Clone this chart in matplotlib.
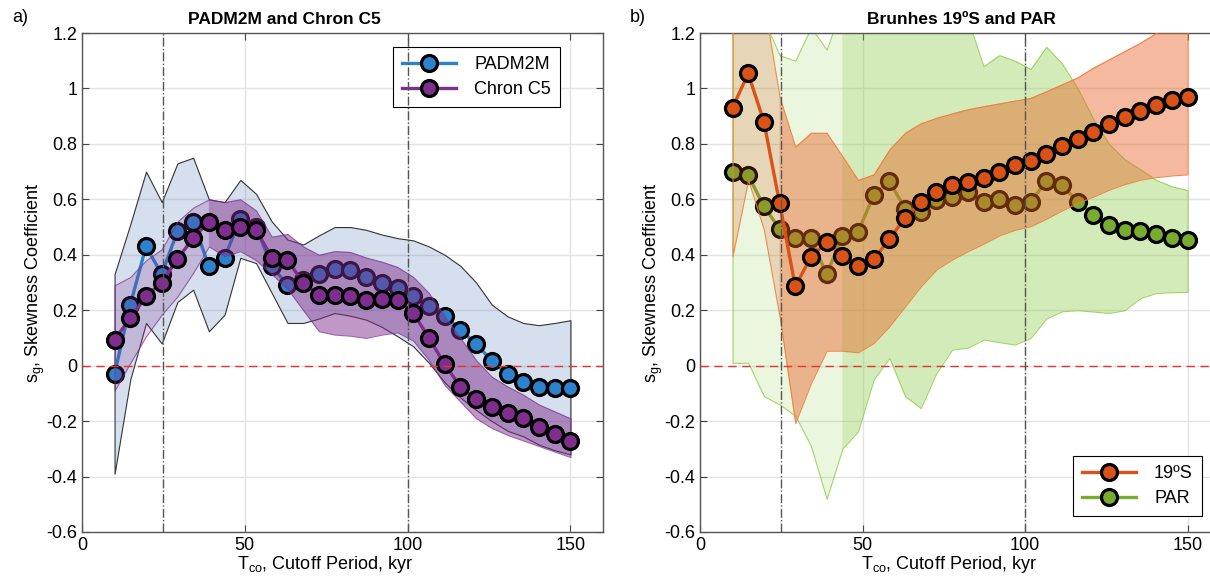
import matplotlib.pyplot as plt
from matplotlib.colors import to_rgba

plt.rcParams['font.family'] = ['Liberation Sans', 'DejaVu Sans']

# cutoff period, kyr
T_co = [10.0, 14.83, 19.66, 24.48, 29.31, 34.14, 38.97, 43.79, 48.62, 53.45,
        58.28, 63.10, 67.93, 72.76, 77.59, 82.41, 87.24, 92.07, 96.90, 101.72,
        106.55, 111.38, 116.21, 121.03, 125.86, 130.69, 135.52, 140.34, 145.17, 150.0]

# panel a
padm2m = [-0.03, 0.22, 0.43, 0.33, 0.485, 0.517, 0.36, 0.39, 0.53, 0.50,
          0.36, 0.29, 0.31, 0.33, 0.35, 0.345, 0.32, 0.30, 0.28, 0.25,
          0.217, 0.178, 0.13, 0.078, 0.018, -0.031, -0.059, -0.078, -0.08, -0.08]
padm2m_hi = [0.33, 0.51, 0.70, 0.59, 0.73, 0.75, 0.60, 0.59, 0.67, 0.62,
             0.52, 0.455, 0.437, 0.47, 0.50, 0.50, 0.49, 0.473, 0.46, 0.452,
             0.43, 0.40, 0.36, 0.30, 0.22, 0.178, 0.154, 0.146, 0.154, 0.164]
padm2m_lo = [-0.39, -0.05, 0.154, 0.08, 0.23, 0.274, 0.124, 0.184, 0.389, 0.37,
             0.262, 0.154, 0.154, 0.17, 0.19, 0.18, 0.166, 0.14, 0.106, 0.07,
             0.01, -0.06, -0.115, -0.16, -0.20, -0.235, -0.255, -0.285, -0.305, -0.32]
c5 = [0.094, 0.172, 0.25, 0.30, 0.385, 0.46, 0.52, 0.49, 0.50, 0.49,
      0.39, 0.38, 0.30, 0.254, 0.256, 0.25, 0.236, 0.24, 0.236, 0.19,
      0.10, 0.005, -0.076, -0.122, -0.15, -0.169, -0.189, -0.221, -0.245, -0.273]
c5_hi = [0.29, 0.32, 0.38, 0.42, 0.52, 0.57, 0.60, 0.59, 0.60, 0.56,
         0.465, 0.475, 0.43, 0.40, 0.413, 0.41, 0.39, 0.375, 0.356, 0.32,
         0.262, 0.178, 0.10, 0.02, -0.04, -0.075, -0.105, -0.14, -0.165, -0.19]
c5_lo = [-0.09, 0.01, 0.106, 0.184, 0.25, 0.335, 0.43, 0.395, 0.413, 0.38,
         0.33, 0.277, 0.20, 0.124, 0.112, 0.108, 0.10, 0.112, 0.12, 0.09,
         0.02, -0.07, -0.13, -0.19, -0.225, -0.25, -0.27, -0.29, -0.31, -0.33]

# panel b
s19 = [0.93, 1.054, 0.88, 0.587, 0.286, 0.392, 0.445, 0.397, 0.361, 0.383,
       0.457, 0.533, 0.59, 0.626, 0.651, 0.663, 0.678, 0.698, 0.723, 0.74,
       0.765, 0.792, 0.816, 0.844, 0.871, 0.896, 0.918, 0.939, 0.958, 0.97]
s19_hi = [1.6, 1.6, 1.31, 0.97, 0.79, 0.84, 0.84, 0.756, 0.67, 0.69,
          0.78, 0.84, 0.874, 0.894, 0.91, 0.925, 0.936, 0.946, 0.956, 0.966,
          0.99, 1.015, 1.04, 1.075, 1.105, 1.135, 1.165, 1.2, 1.23, 1.26]
s19_lo = [0.395, 0.67, 0.49, 0.178, -0.207, -0.063, 0.054, 0.054, 0.048, 0.082,
          0.142, 0.214, 0.286, 0.347, 0.383, 0.413, 0.44, 0.47, 0.49, 0.503,
          0.53, 0.56, 0.587, 0.61, 0.635, 0.655, 0.671, 0.68, 0.686, 0.69]
par = [0.699, 0.687, 0.575, 0.493, 0.46, 0.46, 0.329, 0.467, 0.483, 0.614,
       0.665, 0.566, 0.553, 0.596, 0.61, 0.626, 0.59, 0.603, 0.579, 0.59,
       0.665, 0.651, 0.59, 0.545, 0.509, 0.491, 0.485, 0.475, 0.46, 0.452]
par_hi = [1.5, 1.5, 1.25, 1.12, 1.10, 1.22, 1.14, 1.3, 1.3, 1.3,
          1.3, 1.3, 1.3, 1.3, 1.3, 1.25, 1.08, 1.12, 1.10, 1.07,
          1.15, 1.09, 1.0, 0.89, 0.80, 0.744, 0.708, 0.67, 0.647, 0.633]
par_lo = [0.01, 0.01, -0.11, -0.14, -0.18, -0.29, -0.48, -0.30, -0.237, -0.05,
          0.028, -0.11, -0.153, -0.026, 0.058, 0.065, 0.094, 0.085, 0.076, 0.10,
          0.17, 0.196, 0.20, 0.195, 0.19, 0.20, 0.244, 0.262, 0.265, 0.266]

# index where the darker (overlapping) shading starts
c5_start = 6
s19_start = 3
par_start = 7

xticks = [0, 50, 100, 150]
yticks = [-0.6, -0.4, -0.2, 0, 0.2, 0.4, 0.6, 0.8, 1, 1.2]
yticklabels = ['-0.6', '-0.4', '-0.2', '0', '0.2', '0.4', '0.6', '0.8', '1', '1.2']
ref_lines = [25, 100]

blue = '#2C82CC'
purple = '#7E2F8E'
orange = '#D95319'
green = '#77AC30'


def style_axes(ax, title, title_x, xlabel_x):
    ax.set_xlim(0, 160)
    ax.set_ylim(-0.6, 1.2)
    ax.set_xticks(xticks)
    ax.set_xticklabels([str(t) for t in xticks])
    ax.set_yticks(yticks)
    ax.set_yticklabels(yticklabels)
    ax.tick_params(direction='in', length=5, width=0.8, labelsize=13,
                   top=True, right=True, colors='#444444', labelcolor='black')
    ax.grid(True, color='#E3E3E3', lw=1)
    ax.set_axisbelow(True)
    for s in ax.spines.values():
        s.set_color('#555555')
        s.set_linewidth(1)
    ax.axhline(0, color='#E8342E', lw=1, dashes=(6, 4), zorder=6)
    for xv in ref_lines:
        ax.axvline(xv, color='#555555', lw=1, linestyle='-.', zorder=6)
    # titles sit a bit off-centre in the original
    ax.text(title_x, 1.012, title, transform=ax.transAxes, ha='center', va='bottom',
            fontsize=12.5, fontweight='bold')
    ax.set_xlabel(r'$\mathregular{T_{co}}$, Cutoff Period, kyr', fontsize=13, labelpad=3)
    ax.xaxis.set_label_coords(xlabel_x, -0.045)
    ax.set_ylabel(r'$\mathregular{s_g}$, Skewness Coefficient', fontsize=13, labelpad=-0.5)


def line(ax, y, color, label, z):
    ax.plot(T_co, y, '-o', color=color, lw=2.4, ms=11.5, mfc=color, mec='black',
            mew=2.3, label=label, zorder=z)


fig = plt.figure(figsize=(12.1, 5.85), dpi=100)
ax1 = fig.add_axes([82 / 1210, 53 / 585, 521 / 1210, 499 / 585])
ax2 = fig.add_axes([700 / 1210, 53 / 585, 520 / 1210, 499 / 585])

# a) PADM2M and Chron C5
ax1.fill_between(T_co, padm2m_lo, padm2m_hi, facecolor=to_rgba('#4670B4', 0.22),
                 edgecolor='#333333', lw=0.8, zorder=1)
line(ax1, padm2m, blue, 'PADM2M', 2)
ax1.fill_between(T_co, c5_lo, c5_hi, facecolor=to_rgba(purple, 0.22),
                 edgecolor=to_rgba(purple, 0.7), lw=0.8, zorder=3)
ax1.fill_between(T_co[c5_start:], c5_lo[c5_start:], c5_hi[c5_start:],
                 facecolor=to_rgba(purple, 0.35), edgecolor='none', zorder=3)
line(ax1, c5, purple, 'Chron C5', 4)
style_axes(ax1, 'PADM2M and Chron C5', 0.388, 0.466)
leg = ax1.legend(loc='upper right', bbox_to_anchor=(0.9175, 0.972), borderaxespad=0,
                 fontsize=13, handlelength=3.0, fancybox=False, edgecolor='black',
                 framealpha=1, borderpad=0.5, labelspacing=0.45, handletextpad=1.0)
leg.get_frame().set_linewidth(0.8)

# b) Brunhes 19S and PAR
ax2.fill_between(T_co, par_lo, par_hi, facecolor=to_rgba('#8CCD46', 0.17),
                 edgecolor=to_rgba('#8CCD46', 0.8), lw=0.8, zorder=1)
ax2.fill_between(T_co[par_start:], par_lo[par_start:], par_hi[par_start:],
                 facecolor=to_rgba('#8CCD46', 0.25), edgecolor='none', zorder=1)
line(ax2, par, green, 'PAR', 2)
ax2.fill_between(T_co, s19_lo, s19_hi, facecolor=to_rgba(orange, 0.2),
                 edgecolor=to_rgba('#F08040', 0.9), lw=0.8, zorder=3)
ax2.fill_between(T_co[s19_start:], s19_lo[s19_start:], s19_hi[s19_start:],
                 facecolor=to_rgba('#EE6A2A', 0.3), edgecolor='none', zorder=3)
line(ax2, s19, orange, '19ºS', 4)
style_axes(ax2, 'Brunhes 19ºS and PAR', 0.502, 0.479)
h, l = ax2.get_legend_handles_labels()
leg = ax2.legend(h[::-1], l[::-1], loc='lower right', bbox_to_anchor=(0.965, 0.032),
                 borderaxespad=0, fontsize=13, handlelength=3.0, fancybox=False,
                 edgecolor='black', framealpha=1, borderpad=0.5, labelspacing=0.45,
                 handletextpad=1.0)
leg.get_frame().set_linewidth(0.8)

fig.text(12 / 1210, 1 - 17 / 585, 'a)', fontsize=13, va='center')
fig.text(630 / 1210, 1 - 17 / 585, 'b)', fontsize=13, va='center')

fig.savefig('out.png', dpi=100)
